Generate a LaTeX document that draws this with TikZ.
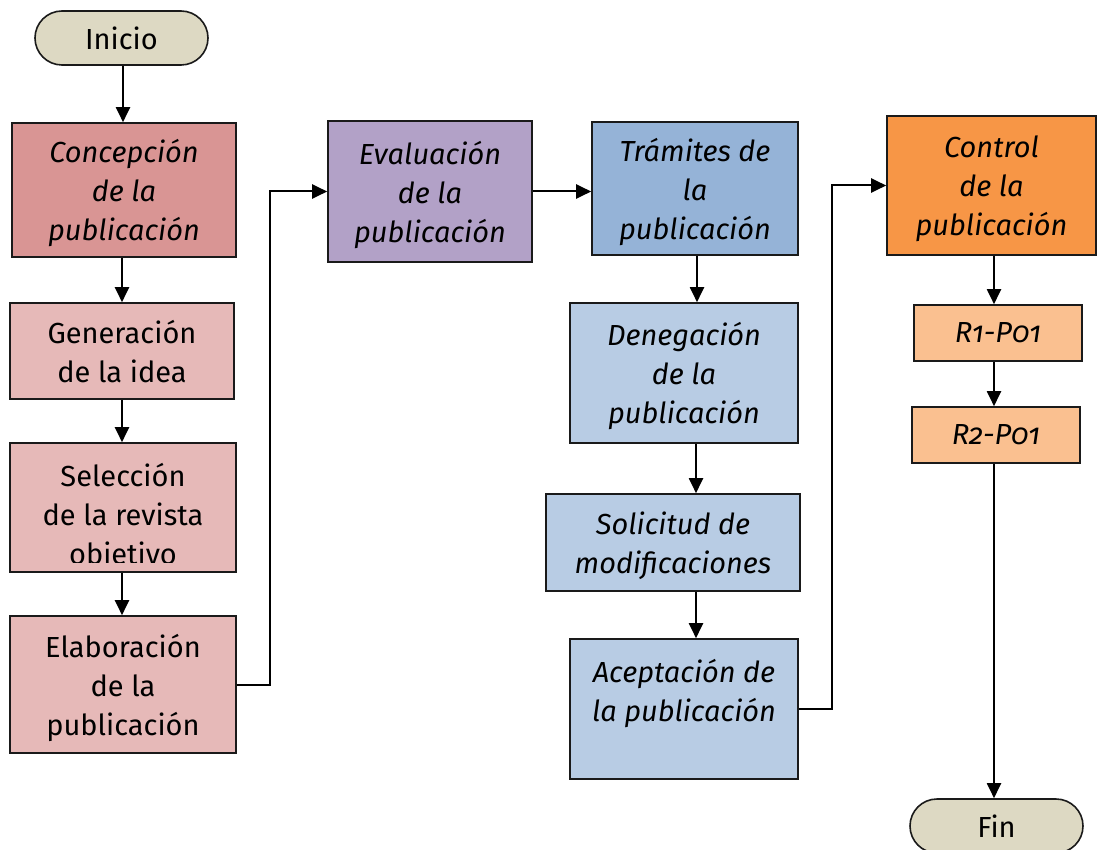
\documentclass[tikz,border=0pt]{standalone}
\usepackage{fontspec}
\setmainfont{Fira Sans}[Numbers=OldStyle]
\usetikzlibrary{arrows.meta,calc}
\definecolor{termc}{HTML}{DDD9C3}
\definecolor{redd}{HTML}{D99594}
\definecolor{redl}{HTML}{E6B9B8}
\definecolor{purp}{HTML}{B2A1C7}
\definecolor{blued}{HTML}{95B3D7}
\definecolor{bluel}{HTML}{B8CCE4}
\definecolor{orad}{HTML}{F79646}
\definecolor{oral}{HTML}{FAC090}
\definecolor{edge}{HTML}{1A1A1A}
\tikzset{
  box/.style={draw=edge, line width=1.6pt, rectangle, inner sep=0pt, align=center,
    font=\fontsize{29}{39}\selectfont, text=black, text depth=0pt},
  itbox/.style={box, font=\fontsize{29}{39}\selectfont\itshape},
  term/.style={box, rounded corners=27pt, fill=termc, minimum width=173pt, minimum height=54pt},
  arr/.style={draw=black, line width=2pt, -{Triangle[length=15pt,width=14pt]}},
}
\begin{document}
\begin{tikzpicture}[x=1pt,y=-1pt]
\useasboundingbox[fill=white] (0,0) rectangle (1097,850);
% left column
\node[term] (ini) at (121.5,38) {Inicio};
\node[itbox, fill=redd, minimum width=224pt, minimum height=134pt] (con) at (124,190) {Concepción\\de la\\publicación};
\node[box, fill=redl, minimum width=224pt, minimum height=96pt] (gen) at (122,351) {Generación\\de la idea};
\node[box, fill=redl, minimum width=226pt, minimum height=129pt] (sel) at (123,507.5) {};
\begin{scope}
\clip (sel.north west) rectangle (sel.east |- 0,562);
\node[box, draw=none] (selt) at (123,514) {Selección\\de la revista\\objetivo};
\end{scope}
\node[box, fill=redl, minimum width=226pt, minimum height=137pt] (ela) at (123,684.5) {Elaboración\\de la\\publicación};
% middle
\node[itbox, fill=purp, minimum width=204pt, minimum height=141pt] (eva) at (430,191.5) {Evaluación\\de la\\publicación};
\node[itbox, fill=blued, minimum width=206pt, minimum height=133pt] (tra) at (695,188.5) {Trámites de\\la\\publicación};
\node[itbox, fill=bluel, minimum width=228pt, minimum height=140pt] (den) at (684,373) {Denegación\\de la\\publicación};
\node[itbox, fill=bluel, minimum width=254pt, minimum height=97pt] (sol) at (673,542.5) {Solicitud de\\modificaciones};
\node[itbox, fill=bluel, minimum width=228pt, minimum height=140pt] (ace) at (684,709) {};
\node[itbox, draw=none] (acet) at (684,690) {Aceptación de\\la publicación};
% right
\node[itbox, fill=orad, minimum width=209pt, minimum height=139pt] (ctl) at (991.5,185.5) {Control\\de la\\publicación};
\node[itbox, fill=oral, minimum width=168pt, minimum height=56pt] (r1) at (998,333) {R1-P01};
\node[itbox, fill=oral, minimum width=168pt, minimum height=56pt] (r2) at (996,435) {R2-P01};
\node[term] (fin) at (996.5,826) {Fin};
% connectors
\draw[arr] (ini.south -| 123,0) -- (con.north -| 123,0);
\draw[arr] (con.south -| gen.north) -- (gen.north);
\draw[arr] (gen.south -| 122,0) -- (sel.north -| 122,0);
\draw[arr] (sel.south -| 122,0) -- (ela.north -| 122,0);
\draw[arr] (ela.east) -- ++(33,0) |- (eva.west);
\draw[arr] (eva.east) -- (eva.east -| tra.west);
\draw[arr] (tra.south -| 697,0) -- (den.north -| 697,0);
\draw[arr] (den.south -| 696,0) -- (sol.north -| 696,0);
\draw[arr] (sol.south -| 696,0) -- (ace.north -| 696,0);
\draw[arr] (ace.east) -- ++(33,0) |- (ctl.west);
\draw[arr] (ctl.south -| 994,0) -- (r1.north -| 994,0);
\draw[arr] (r1.south -| 994,0) -- (r2.north -| 994,0);
\draw[arr] (r2.south -| 994,0) -- (fin.north -| 994,0);
\end{tikzpicture}
\end{document}
